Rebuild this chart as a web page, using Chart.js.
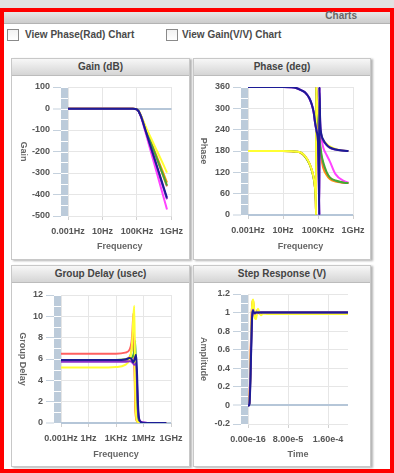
<!DOCTYPE html>
<html>
<head>
<meta charset="utf-8">
<script src="https://cdn.jsdelivr.net/npm/chart.js@4.4.1/dist/chart.umd.min.js"></script>
<style>
body { margin:0; width:394px; height:473px; overflow:hidden; background:#e2e2e2; position:relative;
  font-family:"Liberation Sans", Arial, sans-serif; }
#frame { position:absolute; left:0; top:8px; width:386px; height:457px; border:4px solid #ff0000; background:#fff; }
#bar { position:absolute; left:4px; top:12px; width:386px; height:11px; background:linear-gradient(#e8e8e8,#cccccc); border-bottom:1px solid #b3b3b3; }
#bar span { position:absolute; right:33px; top:-2px; font-size:10px; font-weight:bold; color:#666; line-height:12px; }
.cb { position:absolute; top:29px; width:10px; height:10px; border:1px solid #8a8a8a; background:linear-gradient(#f2f2f2,#fff); }
.cbl { position:absolute; top:29px; font-size:10px; font-weight:bold; color:#4a4a4a; line-height:12px; white-space:nowrap; }
.panel { position:absolute; height:200px; border:1px solid #c8c8c8; background:#fff; box-shadow:2px 1px 2px rgba(0,0,0,0.3); }
.panel .hd { height:16px; background:linear-gradient(#f7f7f7,#d5d5d5); border-bottom:1px solid #bcbcbc;
  text-align:center; font-size:10px; font-weight:bold; color:#444; line-height:16px; }
canvas { position:absolute; }
</style>
</head>
<body>
<div id="frame"></div>
<div id="bar"><span>Charts</span></div>
<div class="cb" style="left:7px"></div><div class="cbl" style="left:25px">View Phase(Rad) Chart</div>
<div class="cb" style="left:166px"></div><div class="cbl" style="left:182px">View Gain(V/V) Chart</div>

<div class="panel" style="left:11px;top:58px;width:177px"><div class="hd">Gain (dB)</div></div>
<div class="panel" style="left:193px;top:58px;width:176px"><div class="hd">Phase (deg)</div></div>
<div class="panel" style="left:11px;top:265px;width:177px"><div class="hd">Group Delay (usec)</div></div>
<div class="panel" style="left:193px;top:265px;width:176px"><div class="hd">Step Response (V)</div></div>

<canvas id="gain" width="177" height="183" style="left:12px;top:76px"></canvas>
<canvas id="phase" width="177" height="183" style="left:194px;top:76px"></canvas>
<canvas id="gd" width="177" height="183" style="left:12px;top:284px"></canvas>
<canvas id="step" width="177" height="183" style="left:194px;top:284px"></canvas>

<script>
// series order in every table: navy, purple, yellow, green, magenta, red, orange
const seriesColors = ["#1c1c96", "#8a2fc8", "#ffff33", "#44aa33", "#ff44ff", "#ff6060", "#ff9a00"];

// Gain (dB)
const gainFreq = [1e-3, 1e-1, 1e1, 1e3, 1e4, 3e4, 6e4, 1e5, 1.5e5, 2e5, 3e5, 1e6, 1e7, 1e8, 3e8];
const gainTicks = [1e-3, 1e1, 1e5, 1e9];
const gainTickLabels = ["0.001Hz", "10Hz", "100KHz", "1GHz"];
const gainDb = [
  [-1, -1, -1, -1, -1, -1.5, -2.5, -5, -12, -22, -38, -103, -229, -355, -415],
  [-1, -1, -1, -1, -1, -1.5, -2.5, -5, -12, -22, -38, -105, -233, -361, -422],
  [-1, -1, -1, -1, -1, -1.3, -2, -4, -10, -19, -34, -83, -170, -256, -298],
  [-1, -1, -1, -1, -1, -1.4, -2.3, -4.5, -11, -21, -37, -93, -200, -306, -358],
  [-1, -1, -1, -1, -1, -1.6, -2.8, -6, -13, -24, -41, -113, -257, -401, -470],
  [-1, -1, -1, -1, -1, -1.4, -2.3, -4.5, -11, -21, -37, -94, -202, -310, -362],
  [-1, -1, -1, -1, -1, -1.4, -2.2, -4.4, -11, -20, -36, -91, -193, -295, -345]
];

// Phase (deg)
const phaseFreq = [1e-3, 0.1, 10, 100, 316, 1e3, 3.16e3, 1e4, 2e4, 3.16e4, 4.47e4, 5.62e4, 6.03e4, 6.17e4,
  7.08e4, 1e5, 1.26e5, 1.41e5, 1.45e5, 1.78e5, 2.51e5, 3.98e5, 1e6, 2.24e6, 1e7, 1e8, 3e8];
const phaseDeg = [
  [360, 360, 360, 359, 357, 352, 345, 329, 310, 290, 263, 248, 244, 243, 235, 207, 90, 0, 360, 262, 226, 212, 197, 190, 184, 181, 180],
  [360, 360, 360, 359, 357, 352, 345, 329, 310, 290, 262, 247, 243, 242, 233, 203, 85, 0, 360, 258, 222, 209, 196, 189, 184, 181, 180],
  [180, 180, 180, 179, 178, 176, 166, 146, 126, 106, 80, 40, 0, 360, 330, 290, 265, 255, 253, 238, 222, 210, 200, 193, 186, 181, 180],
  [180, 180, 180, 179, 178, 176, 165, 145, 124, 104, 78, 38, 0, 360, 322, 275, 242, 222, 218, 198, 170, 148, 120, 106, 97, 91, 90],
  [360, 360, 360, 359, 357, 352, 345, 328, 309, 289, 261, 246, 242, 241, 232, 202, 80, 0, 360, 255, 216, 190, 168, 151, 115, 95, 91],
  [180, 180, 180, 179, 178, 176, 166, 146, 126, 106, 80, 40, 0, 360, 320, 270, 235, 215, 210, 190, 165, 140, 118, 105, 96, 91, 90],
  [180, 180, 180, 179, 178, 175, 165, 145, 125, 104, 78, 37, 0, 360, 318, 266, 230, 210, 205, 184, 158, 132, 112, 101, 94, 91, 90]
];

// Group delay (usec)
const gdFreq = [1e-3, 0.1, 10, 1e3, 1e4, 3.16e4, 5e4, 6.3e4, 7.9e4, 1e5, 1.26e5, 1.58e5, 2e5, 2.5e5, 3.16e5, 5e5, 1e6, 1e7, 1e8, 3e8];
const gdTicks = [1e-3, 1, 1e3, 1e6, 1e9];
const gdTickLabels = ["0.001Hz", "1Hz", "1KHz", "1MHz", "1GHz"];
const gdUsec = [
  [5.9, 5.9, 5.9, 5.9, 5.95, 6.1, 6.0, 5.8, 5.7, 5.9, 6.2, 6.4, 4.5, 1.8, 0.5, 0.1, 0.03, 0, 0, 0],
  [5.75, 5.75, 5.75, 5.75, 5.75, 5.8, 5.75, 5.65, 5.55, 5.45, 5.5, 5.6, 3.5, 1.2, 0.4, 0.1, 0.02, 0, 0, 0],
  [5.2, 5.2, 5.2, 5.25, 5.45, 6.0, 6.9, 8.2, 10.0, 11.0, 3.0, 0.7, 0.2, 0.1, 0.05, 0.02, 0.01, 0, 0, 0],
  [5.9, 5.9, 5.9, 5.9, 5.95, 6.0, 6.1, 6.2, 6.4, 6.8, 7.7, 4.0, 1.0, 0.3, 0.1, 0.03, 0.01, 0, 0, 0],
  [5.85, 5.85, 5.85, 5.85, 5.85, 5.9, 5.85, 5.75, 5.65, 5.55, 5.6, 5.0, 3.0, 1.0, 0.4, 0.15, 0.05, 0, 0, 0],
  [6.5, 6.5, 6.5, 6.5, 6.6, 6.9, 7.6, 8.6, 10.3, 7.0, 2.5, 0.6, 0.2, 0.1, 0.05, 0.02, 0.01, 0, 0, 0],
  [5.9, 5.9, 5.9, 5.9, 5.95, 6.2, 6.8, 7.8, 9.3, 6.0, 1.5, 0.4, 0.15, 0.05, 0.02, 0.01, 0, 0, 0, 0]
];

// Step response (V)
const stepTime = [0, 2e-6, 3e-6, 4e-6, 5e-6, 6e-6, 7e-6, 8e-6, 9e-6, 1e-5, 1.1e-5, 1.2e-5, 1.4e-5, 1.6e-5,
  1.8e-5, 2e-5, 2.3e-5, 2.6e-5, 3e-5, 4e-5, 6e-5, 1e-4, 1.5e-4, 2e-4];
const stepTicks = [0, 8e-5, 1.6e-4];
const stepTickLabels = ["0.00e-16", "8.00e-5", "1.60e-4"];
const stepVolts = [
  [0, 0, 0.02, 0.12, 0.3, 0.52, 0.74, 0.92, 1.0, 1.02, 1.01, 1.0, 0.995, 1.0, 1.0, 1.0, 1.0, 1.0, 1.0, 1.0, 1.0, 1.0, 1.0, 1.0],
  [0, 0, 0.03, 0.14, 0.33, 0.55, 0.76, 0.93, 1.01, 1.03, 1.01, 0.99, 0.99, 1.0, 1.0, 1.0, 1.0, 1.0, 1.0, 1.0, 1.0, 1.0, 1.0, 1.0],
  [0, 0.005, 0.05, 0.2, 0.43, 0.68, 0.9, 1.05, 1.12, 1.14, 1.11, 1.05, 0.94, 0.93, 1.0, 1.04, 1.0, 0.97, 0.99, 0.985, 0.985, 0.985, 0.985, 0.985],
  [0, 0.005, 0.04, 0.17, 0.38, 0.61, 0.82, 0.97, 1.04, 1.05, 1.03, 1.0, 0.98, 1.0, 1.01, 1.0, 1.0, 1.0, 1.0, 1.0, 1.0, 1.0, 1.0, 1.0],
  [0, 0.01, 0.06, 0.2, 0.42, 0.66, 0.86, 0.99, 1.05, 1.06, 1.03, 0.99, 0.97, 0.99, 1.01, 1.0, 1.0, 1.0, 1.0, 1.0, 1.0, 1.0, 1.0, 1.0],
  [0, 0.01, 0.07, 0.24, 0.48, 0.73, 0.93, 1.06, 1.1, 1.09, 1.05, 1.0, 0.95, 0.98, 1.02, 1.01, 0.99, 1.0, 1.0, 1.0, 1.0, 1.0, 1.0, 1.0],
  [0, 0.01, 0.06, 0.22, 0.45, 0.7, 0.91, 1.05, 1.12, 1.13, 1.1, 1.04, 0.95, 0.96, 1.02, 1.03, 0.99, 0.99, 1.0, 1.0, 1.0, 1.0, 1.0, 1.0]
];

const font = { family: "'Liberation Sans', Arial, sans-serif", size: 9, weight: "bold" };

function isZero(g) {
  return g.tick && Math.abs(g.tick.value) < 1e-9;
}

// light blue strip left of the plot, cut by white lines at ticks and half ticks
const bandPlugin = {
  id: "band",
  beforeDatasetsDraw(chart) {
    const { ctx, chartArea } = chart;
    const y = chart.scales.y;
    const x0 = chartArea.left - 7;
    ctx.save();
    ctx.fillStyle = "#bccbda";
    ctx.fillRect(x0, chartArea.top, 7, chartArea.bottom - chartArea.top);
    ctx.strokeStyle = "#ffffff";
    ctx.lineWidth = 1;
    ctx.beginPath();
    y.ticks.forEach((t, i) => {
      let py = Math.round(y.getPixelForValue(t.value)) + 0.5;
      ctx.moveTo(x0, py);
      ctx.lineTo(chartArea.left, py);
      if (i < y.ticks.length - 1) {
        py = Math.round(y.getPixelForValue((t.value + y.ticks[i + 1].value) / 2)) + 0.5;
        ctx.moveTo(x0, py);
        ctx.lineTo(chartArea.left, py);
      }
    });
    ctx.stroke();
    ctx.restore();
  }
};

// y title turned clockwise, as in the original
const sideTitle = {
  id: "sideTitle",
  afterDraw(chart, args, opts) {
    const { ctx, chartArea } = chart;
    ctx.save();
    ctx.translate(opts.x, (chartArea.top + chartArea.bottom) / 2);
    ctx.rotate(Math.PI / 2);
    ctx.font = "bold 9px 'Liberation Sans', Arial, sans-serif";
    ctx.fillStyle = "#666";
    ctx.textAlign = "center";
    ctx.textBaseline = "middle";
    ctx.fillText(opts.text, 0, 0);
    ctx.restore();
  }
};

function datasetsFrom(xs, table) {
  return table.map((vals, k) => ({
    data: xs.map((x, i) => ({ x: x, y: vals[i] })),
    borderColor: seriesColors[k],
    borderWidth: 2,
    pointRadius: 0,
    cubicInterpolationMode: "monotone",
    fill: false
  }));
}

function makeChart(id, c) {
  const xScale = {
    type: c.xType,
    min: c.xMin,
    max: c.xMax,
    afterBuildTicks: (s) => { s.ticks = c.xTicks.map((v) => ({ value: v })); },
    afterFit: (s) => { s.height = c.xHeight; },
    ticks: { autoSkip: false, maxRotation: 0, minRotation: 0, padding: 6, font: font, color: "#555",
      callback: (v, i) => c.xLabels[i] },
    grid: { color: "#e6e6e6", tickColor: "#d0d0d0", tickLength: 4 },
    border: { display: false },
    title: { display: true, text: c.xTitle, font: font, color: "#666", padding: { top: 0, bottom: 7 } }
  };
  const yScale = {
    min: c.yMin,
    max: c.yMax,
    afterFit: (s) => { s.width = c.yWidth; },
    ticks: { stepSize: c.yStep, padding: 3, font: font, color: "#555",
      callback: (v) => String(Math.round(v * 10) / 10) },
    grid: {
      color: (g) => (isZero(g) ? "#b5c6d8" : "#e6e6e6"),
      lineWidth: (g) => (isZero(g) ? 2 : 1),
      tickColor: "#c5d1dd",
      tickWidth: 1,
      tickLength: 15
    },
    border: { display: false }
  };
  return new Chart(document.getElementById(id), {
    type: "line",
    data: { datasets: datasetsFrom(c.xs, c.table) },
    options: {
      responsive: false,
      animation: false,
      layout: { padding: { top: c.top, right: c.right, left: 0, bottom: 0 } },
      plugins: {
        legend: { display: false },
        tooltip: { enabled: false },
        sideTitle: { text: c.yTitle, x: c.titleX }
      },
      scales: { x: xScale, y: yScale }
    },
    plugins: [bandPlugin, sideTitle]
  });
}

makeChart("gain", {
  xs: gainFreq, table: gainDb, xType: "logarithmic", xMin: 1e-3, xMax: 1e9,
  xTicks: gainTicks, xLabels: gainTickLabels, xTitle: "Frequency", xHeight: 43,
  yMin: -500, yMax: 100, yStep: 100, yWidth: 56, yTitle: "Gain", titleX: 11,
  top: 11, right: 17
});
makeChart("phase", {
  xs: phaseFreq, table: phaseDeg, xType: "logarithmic", xMin: 1e-3, xMax: 1e9,
  xTicks: gainTicks, xLabels: gainTickLabels, xTitle: "Frequency", xHeight: 44,
  yMin: 0, yMax: 360, yStep: 60, yWidth: 54, yTitle: "Phase", titleX: 9.5,
  top: 11, right: 18
});
makeChart("gd", {
  xs: gdFreq, table: gdUsec, xType: "logarithmic", xMin: 1e-3, xMax: 1e9,
  xTicks: gdTicks, xLabels: gdTickLabels, xTitle: "Frequency", xHeight: 44,
  yMin: 0, yMax: 12, yStep: 2, yWidth: 49, yTitle: "Group Delay", titleX: 10,
  top: 11, right: 18
});
makeChart("step", {
  xs: stepTime, table: stepVolts, xType: "linear", xMin: 0, xMax: 2e-4,
  xTicks: stepTicks, xLabels: stepTickLabels, xTitle: "Time", xHeight: 43,
  yMin: -0.2, yMax: 1.2, yStep: 0.2, yWidth: 54, yTitle: "Amplitude", titleX: 9.5,
  top: 10, right: 23
});
</script>
</body>
</html>
